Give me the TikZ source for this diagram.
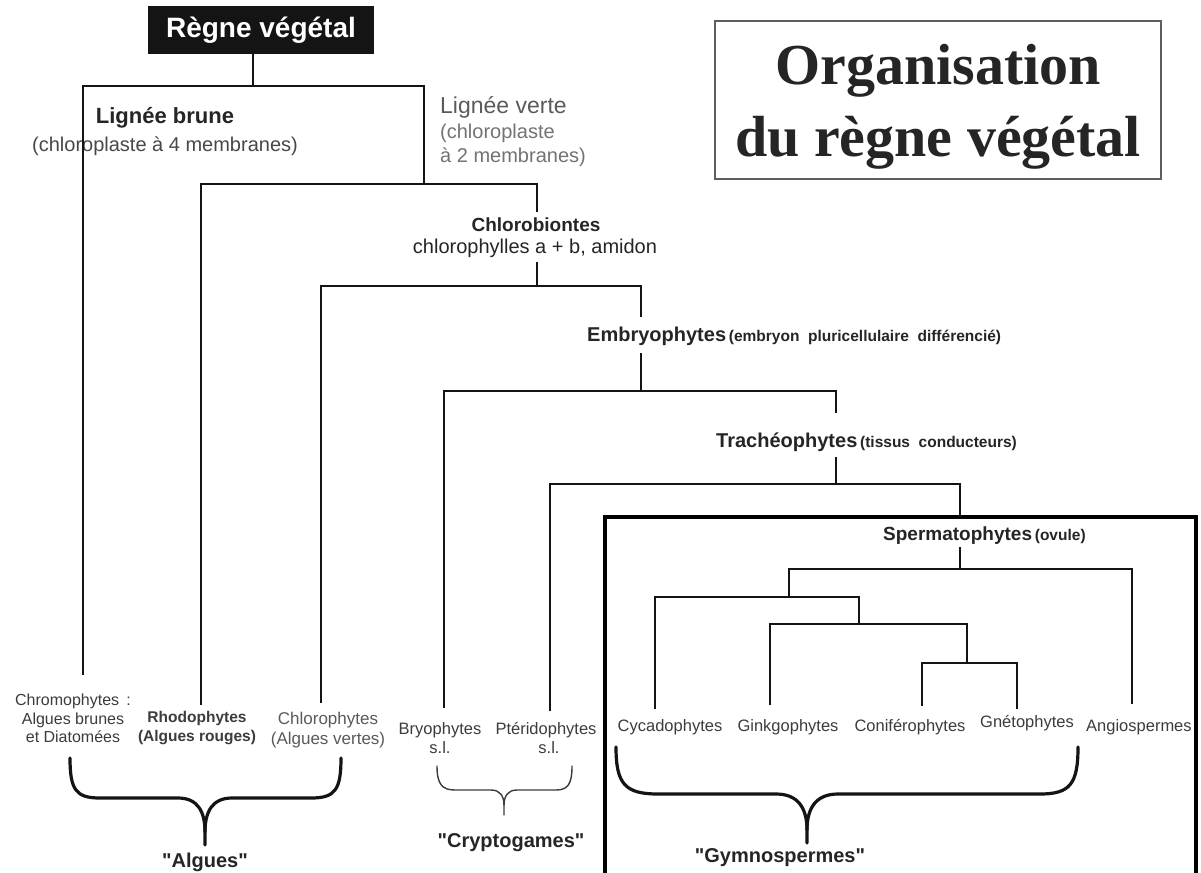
\documentclass[tikz,border=0pt]{standalone}
\usepackage{fontspec}
\setmainfont{Liberation Sans}[Ligatures=TeXOff]
\newfontfamily\serifbold{Liberation Serif}
\definecolor{ink}{HTML}{141414}
\definecolor{darktxt}{HTML}{252525}
\definecolor{leafgray}{HTML}{3C3C3C}
\definecolor{softgray}{HTML}{5A5A5A}
\definecolor{boxgray}{HTML}{5E5E5E}
\newcommand{\fs}[2]{\fontsize{#1}{#2}\selectfont}
\begin{document}
\begin{tikzpicture}[x=1pt,y=-1pt,
  branch/.style={line width=2.2pt,draw=ink,line join=miter},
  bracethick/.style={line width=3.2pt,draw=ink,line cap=round,line join=round},
  bracethin/.style={line width=1.4pt,draw=leafgray,line cap=round,line join=round},
  leaf/.style={font=\fs{16.5}{19.5},text=leafgray,align=center,inner sep=0pt},
  clade/.style={inner sep=0pt,text=darktxt},
  quoted/.style={font=\fs{20}{24}\bfseries,text=darktxt,inner sep=0pt}]
\useasboundingbox (0,0) rectangle (1201,872);
\fill[white] (0,0) rectangle (1201,872);

% ---------- headings ----------
\node[fill=ink,text=white,font=\fs{28}{32}\bfseries,minimum width=226pt,minimum height=48pt,inner sep=0pt]
  (regne) at (261,30) {Règne végétal};
\node[draw=boxgray,line width=1.8pt,minimum width=446pt,minimum height=158pt,inner sep=0pt]
  (titre) at (938,100) {};
\node[text=darktxt,font=\serifbold\bfseries\fs{58}{72},align=center,inner sep=0pt]
  (titretxt) at (938,107) {Organisation\\du règne végétal};

% ---------- clade labels ----------
\node[clade,font=\fs{22}{26}\bfseries] (brune) at (165,118) {Lignée brune};
\node[clade,font=\fs{20}{24},text=softgray!80!black] (brunetxt) at (165,146) {(chloroplaste à 4 membranes)};
\node[clade,font=\fs{23}{26},text=softgray,anchor=west] (verte) at (440,107) {Lignée verte};
\node[clade,font=\fs{20}{24},text=softgray!85,anchor=west,align=left] (vertetxt) at (440,145)
  {(chloroplaste\\à 2 membranes)};
\node[clade,font=\fs{19}{23}\bfseries] (chlb) at (536,225) {Chlorobiontes};
\node[clade,font=\fs{20}{24}] (chlbtxt) at (535,248) {chlorophylles a + b, amidon};
\node[clade,anchor=west] (embryo) at (587,336)
  {{\fs{20}{24}\bfseries Embryophytes} {\fs{15.5}{18}\bfseries (embryon\ \ pluricellulaire\ \ différencié)}};
\node[clade,anchor=west] (trach) at (716,442)
  {{\fs{20}{24}\bfseries Trachéophytes} {\fs{15.5}{18}\bfseries (tissus\ \ conducteurs)}};
\node[clade,anchor=west] (sperm) at (883,536)
  {{\fs{19}{23}\bfseries Spermatophytes} {\fs{15.5}{18}\bfseries (ovule)}};

% ---------- leaves ----------
\node[leaf,font=\fs{16}{18.5}] (chromo) at (73,718.5) {Chromophytes\ \,:\\Algues brunes\\et Diatomées};
\node[leaf,font=\fs{15.5}{19}\bfseries] (rhodo) at (197,728.5) {Rhodophytes\\(Algues rouges)};
\node[leaf,font=\fs{17}{20},text=softgray] (chloro) at (328,730) {Chlorophytes\\(Algues vertes)};
\node[leaf] (bryo) at (440,738) {Bryophytes\\s.l.};
\node[leaf] (pteri) at (546,738) {Ptéridophytes\\\hspace*{6pt}s.l.};
\node[leaf] (cyca) at (670,727) {Cycadophytes};
\node[leaf] (ginkgo) at (788,727) {Ginkgophytes};
\node[leaf] (conif) at (910,727) {Coniférophytes};
\node[leaf] (gneto) at (1027,723) {Gnétophytes};
\node[leaf,anchor=west] (angio) at (1086,727) {Angiospermes};

% ---------- junctions and branch ends ----------
\coordinate (r0) at (253,86);
\coordinate (h2J) at (424,184);
\coordinate (chlbTop) at (537,212);
\coordinate (chlbBot) at (537,262);
\coordinate (h3J) at (537,286);
\coordinate (embTop) at (641,317);
\coordinate (embBot) at (641,353);
\coordinate (h4J) at (641,391);
\coordinate (trTop) at (836,413);
\coordinate (trBot) at (836,457);
\coordinate (h5J) at (836,484);
\coordinate (spTop) at (960,517);
\coordinate (spBot) at (960,547);
\coordinate (h6J) at (960,569);
\coordinate (h7J) at (789,597);
\coordinate (h8J) at (859,624);
\coordinate (h9J) at (967,663);
\coordinate (chromoEnd) at (83,675);
\coordinate (rhodoEnd) at (201,705);
\coordinate (chloroEnd) at (321,703);
\coordinate (bryoEnd) at (444,708);
\coordinate (pterEnd) at (550,711);
\coordinate (cycaEnd) at (655,709);
\coordinate (ginkEnd) at (770,705);
\coordinate (coniEnd) at (922,706);
\coordinate (gnetEnd) at (1017,709);
\coordinate (angioEnd) at (1132,704);

% ---------- tree ----------
\draw[branch] (regne.south -| r0) -- (r0);
\draw[branch] (chromoEnd) |- (r0) -| (h2J);
\draw[branch] (rhodoEnd) |- (h2J) -| (chlbTop);
\draw[branch] (chlbBot) -- (h3J);
\draw[branch] (chloroEnd) |- (h3J) -| (embTop);
\draw[branch] (embBot) -- (h4J);
\draw[branch] (bryoEnd) |- (h4J) -| (trTop);
\draw[branch] (trBot) -- (h5J);
\draw[branch] (pterEnd) |- (h5J) -| (spTop);
\draw[branch] (spBot) -- (h6J);
\draw[branch] (h7J) |- (h6J) -| (angioEnd);
\draw[branch] (cycaEnd) |- (h7J) -| (h8J);
\draw[branch] (ginkEnd) |- (h8J) -| (h9J);
\draw[branch] (coniEnd) |- (h9J) -| (gnetEnd);

% ---------- seed plant frame ----------
\draw[line width=4.6pt,draw=black] (605,885) -- (605,517) -- (1196,517) -- (1196,885);

% ---------- braces ----------
\coordinate (algL) at (70,758);
\coordinate (algR) at (341,758);
\coordinate (algT) at (205,845);
\draw[bracethick] (algL) .. controls (70,790) and (76,798) .. (100,798) -- (178,798)
  .. controls (198,798) and (205,812) .. (205,832) -- (algT);
\draw[bracethick] (205,832) .. controls (205,812) and (212,798) .. (232,798) -- (311,798)
  .. controls (335,798) and (341,790) .. (algR);
\node[quoted] (algues) at (205,862) {"Algues"};

\coordinate (cryL) at (437,766);
\coordinate (cryR) at (572,766);
\coordinate (cryT) at (504,815);
\draw[bracethin] (cryL) .. controls (437,784) and (442,790) .. (455,790) -- (491,790)
  .. controls (500,790) and (504,796) .. (504,805) -- (cryT);
\draw[bracethin] (504,805) .. controls (504,796) and (508,790) .. (517,790) -- (556,790)
  .. controls (568,790) and (572,784) .. (cryR);
\node[quoted] (crypto) at (511,843) {"Cryptogames"};

\coordinate (gymL) at (616,747);
\coordinate (gymR) at (1078,747);
\coordinate (gymT) at (807,843);
\draw[bracethick] (gymL) .. controls (616,784) and (625,794) .. (658,794) -- (776,794)
  .. controls (798,794) and (807,808) .. (807,830) -- (gymT);
\draw[bracethick] (807,830) .. controls (807,808) and (816,794) .. (838,794) -- (1040,794)
  .. controls (1070,794) and (1078,784) .. (gymR);
\node[quoted] (gymno) at (780,858) {"Gymnospermes"};
\end{tikzpicture}
\end{document}
